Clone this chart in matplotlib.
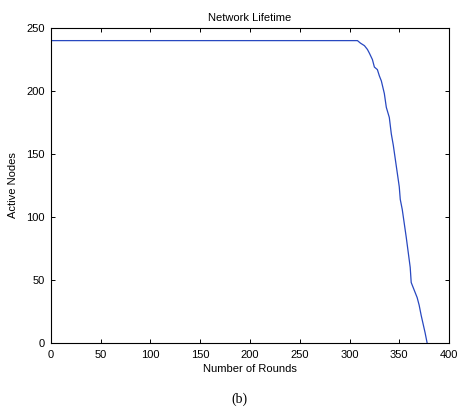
import matplotlib
matplotlib.use("Agg")
import matplotlib.pyplot as plt

# values
rounds = [0, 308, 311, 315, 318, 320, 323, 325, 328, 330, 332, 335, 337, 340,
          342, 344, 346, 348, 350, 351, 353, 355, 357, 359, 361, 362, 364, 366,
          368, 370, 372, 374, 376, 378]
nodes = [240, 240, 238, 236, 233, 230, 225, 219, 217, 212, 208, 198, 187, 179,
         166, 157, 146, 135, 124, 114, 106, 95, 84, 72, 60, 48, 44, 40,
         36, 30, 22, 15, 8, 0]
x_ticks = [0, 50, 100, 150, 200, 250, 300, 350, 400]
y_ticks = [0, 50, 100, 150, 200, 250]

plt.rcParams['font.family'] = ['Liberation Sans', 'DejaVu Sans']
plt.rcParams['font.size'] = 8

fig = plt.figure(figsize=(4.61, 4.12), dpi=100)
ax = fig.add_axes([0.1106, 0.1675, 0.8634, 0.7645])

ax.plot(rounds, nodes, color='#2848c0', linewidth=0.9)

ax.set_xlim(0, 400)
ax.set_ylim(0, 250)
ax.set_xticks(x_ticks)
ax.set_yticks(y_ticks)
ax.tick_params(direction='in', length=3, width=0.7, top=True, right=True,
               labelsize=8)
ax.tick_params(axis='x', pad=5)
ax.tick_params(axis='y', pad=4.5)
for s in ax.spines.values():
    s.set_linewidth(0.8)
    s.set_color('black')

ax.set_title('Network Lifetime', fontsize=8, pad=5)
ax.set_xlabel('Number of Rounds', fontsize=8, labelpad=3)
ax.set_ylabel('Active Nodes', fontsize=8, labelpad=6)

fig.text(0.5 + 0.02, 1 - 399 / 412, '(b)', ha='center', va='center',
         fontsize=10, family='Liberation Serif')

fig.savefig('out.png', dpi=100)
